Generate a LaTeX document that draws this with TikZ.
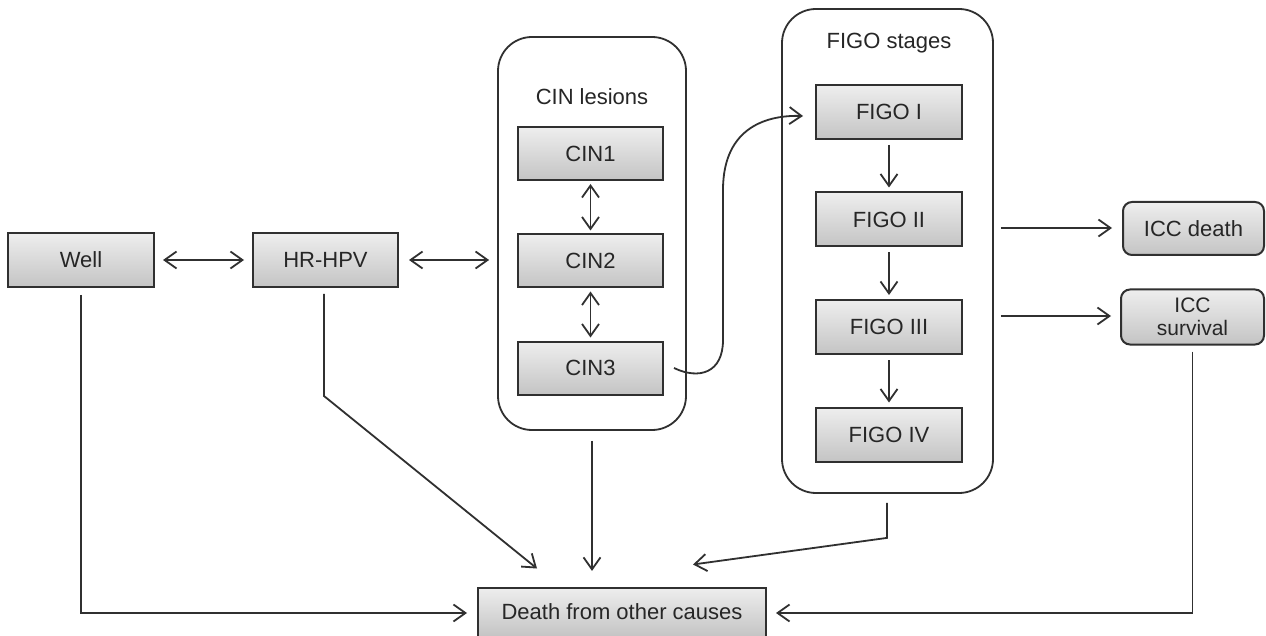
\documentclass[tikz,border=0pt]{standalone}
\usepackage{fontspec}
\setmainfont{Liberation Sans}
\usetikzlibrary{arrows.meta,calc}
\definecolor{edge}{HTML}{303030}
\definecolor{boxtop}{HTML}{EEEEEE}
\definecolor{boxbot}{HTML}{C4C4C4}
\definecolor{txt}{HTML}{262626}
\tikzset{
  statebox/.style={draw=edge, line width=2pt, top color=boxtop, bottom color=boxbot,
    minimum width=146pt, minimum height=54pt, inner sep=0pt, text=txt,
    font=\fontsize{22}{25}\selectfont, align=center},
  roundstate/.style={statebox, rounded corners=9pt},
  group/.style={draw=edge, line width=1.8pt, fill=white, rounded corners=34pt, inner sep=0pt},
  grouplabel/.style={text=txt, font=\fontsize{22}{25}\selectfont, inner sep=0pt},
  conn/.style={draw=edge, line width=1.8pt, -{Straight Barb[length=12pt,width=17pt,line width=1.8pt]}},
  dconn/.style={draw=edge, line width=1.8pt, {Straight Barb[length=12pt,width=17pt,line width=1.8pt]}-{Straight Barb[length=12pt,width=17pt,line width=1.8pt]}},
}
\begin{document}
\begin{tikzpicture}[x=1pt,y=-1pt]
\useasboundingbox[fill=white] (0,0) rectangle (1266,636);
% groups
\node[group, minimum width=188pt, minimum height=393pt] (cinbox) at (592,233.5) {};
\node[group, minimum width=211pt, minimum height=484pt] (figobox) at (887.5,251) {};
\node[grouplabel] (cinlab) at (592,97) {CIN lesions};
\node[grouplabel] (figolab) at (889,43) {FIGO stages};
% states
\node[statebox] (well) at (81,260) {Well};
\node[statebox, minimum width=145pt] (hpv) at (325.5,260) {HR-HPV};
\node[statebox, minimum width=145pt, minimum height=53pt] (cin1) at (590.5,153.5) {CIN1};
\node[statebox, minimum width=145pt, minimum height=53pt] (cin2) at (590.5,261) {CIN2};
\node[statebox, minimum width=145pt, minimum height=53pt] (cin3) at (590.5,368) {CIN3};
\node[statebox] (figo1) at (889,112) {FIGO I};
\node[statebox] (figo2) at (889,219.5) {FIGO II};
\node[statebox] (figo3) at (889,327) {FIGO III};
\node[statebox] (figo4) at (889,434.5) {FIGO IV};
\node[roundstate, minimum width=141pt, minimum height=53pt] (iccd) at (1193.5,228.5) {ICC death};
\node[roundstate, minimum width=143pt, minimum height=55pt, font=\fontsize{21}{23}\selectfont] (iccs) at (1192.5,317) {ICC\\survival};
\node[statebox, minimum width=288pt, minimum height=49pt] (death) at (622,612) {Death from other causes};
% connectors
\draw[dconn, shorten <=8pt, shorten >=8pt] (well.east) -- (hpv.west);
\draw[dconn, shorten <=10pt, shorten >=8pt] (hpv.east) -- (hpv.east -| cinbox.west);
\draw[dconn, shorten <=3pt, shorten >=3pt] (cin1.south) -- (cin2.north);
\draw[dconn, shorten <=3pt, shorten >=3pt] (cin2.south) -- (cin3.north);
\draw[conn] ($(cin3.east)+(10,0)$) .. controls ($(cin3.east)+(35,12)$) and ($(cin3.east)+(59,5)$) .. ($(cin3.east)+(59,-28)$)
  -- ($(cin3.east)+(59,-178)$) .. controls ($(cin3.east)+(59,-243)$) and ($(figo1.west)+(-45,3)$) .. ($(figo1.west)+(-12,4)$);
\draw[conn, shorten <=5pt, shorten >=4pt] (figo1.south) -- (figo2.north);
\draw[conn, shorten <=5pt, shorten >=4pt] (figo2.south) -- (figo3.north);
\draw[conn, shorten <=5pt, shorten >=4pt] (figo3.south) -- (figo4.north);
\draw[conn] ($(figobox.east |- iccd.west)+(7,-0.5)$) -- ($(iccd.west)+(-10,-0.5)$);
\draw[conn] ($(figobox.east |- iccs.west)+(7,-1)$) -- ($(iccs.west)+(-9,-1)$);
\draw[conn] ($(well.south)+(0,7)$) |- ($(death.west)+(-10,1)$);
\draw[conn] ($(iccs.south)+(0,6)$) |- ($(death.east)+(9,1)$);
\draw[conn] ($(hpv.south)+(-1.5,6)$) -- ++(0,102) -- ($(death.north west)+(60,-18)$);
\draw[conn] ($(cinbox.south)+(0,10)$) -- ($(cinbox.south)+(0,140)$);
\draw[conn] ($(figobox.south)+(-0.5,9)$) -- ++(0,35) -- ($(death.north east)+(-74,-22)$);
\end{tikzpicture}
\end{document}
